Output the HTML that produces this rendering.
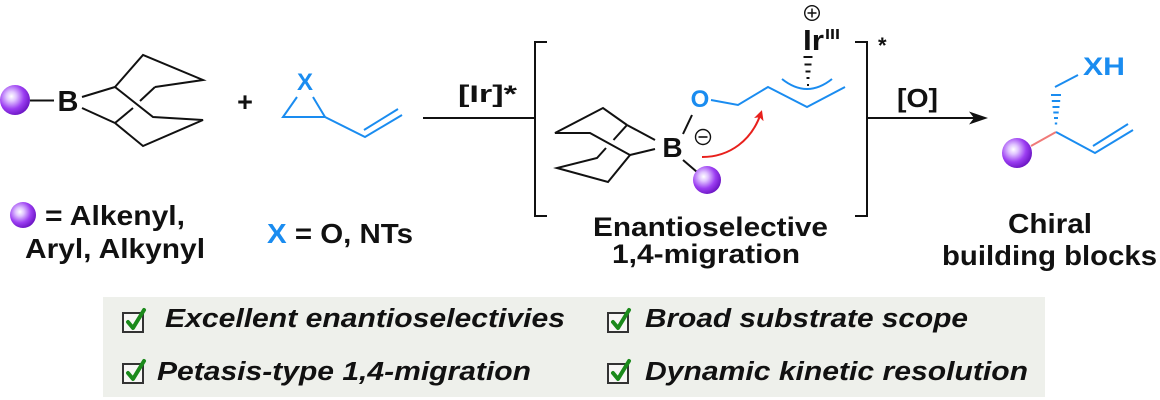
<!DOCTYPE html>
<html>
<head>
<meta charset="utf-8">
<style>
  html,body{margin:0;padding:0;background:#fff;}
  svg{display:block;}
  text{font-family:"Liberation Sans",Arial,sans-serif;font-weight:bold;fill:#111;}
  .it{font-style:italic;}
  .bl{fill:#1a8cf0;}
</style>
</head>
<body>
<svg width="1160" height="400" viewBox="0 0 1160 400" xmlns="http://www.w3.org/2000/svg">
  <defs>
    <radialGradient id="ball" cx="0.38" cy="0.38" r="0.65">
      <stop offset="0" stop-color="#ffffff"/>
      <stop offset="0.25" stop-color="#e0c4ff"/>
      <stop offset="0.65" stop-color="#9c3ef2"/>
      <stop offset="1" stop-color="#6c16c4"/>
    </radialGradient>
    <marker id="ah" viewBox="0 0 10 10" refX="7" refY="5" markerWidth="5" markerHeight="5" orient="auto" markerUnits="strokeWidth">
      <path d="M0,0 L10,5 L0,10 L2.5,5 z" fill="#e8201c"/>
    </marker>
  </defs>

  <!-- ===== Left reagent: R-9-BBN ===== -->
  <circle cx="15" cy="100" r="15" fill="url(#ball)"/>
  <line x1="30" y1="100.5" x2="54" y2="100.5" stroke="#111" stroke-width="2"/>
  <text x="68" y="111" font-size="29" text-anchor="middle">B</text>
  <g stroke="#111" stroke-width="2" fill="none" stroke-linejoin="miter">
    <line x1="82" y1="97" x2="115" y2="87"/>
    <line x1="82" y1="108" x2="115" y2="123"/>
    <polyline points="115,87 143,55 203,80 155,87"/>
    <line x1="155" y1="87" x2="140" y2="101"/>
    <line x1="133" y1="108" x2="115" y2="123"/>
    <polyline points="115,87 153,117 203,120 143,146 115,123"/>
  </g>

  <!-- plus -->
  <text x="245" y="111" font-size="27" text-anchor="middle">+</text>

  <!-- epoxide / aziridine -->
  <text x="305" y="90" font-size="24" text-anchor="middle" class="bl">X</text>
  <g stroke="#1a8cf0" stroke-width="2" fill="none">
    <polyline points="297,97 283,117 325,117 313,97"/>
    <polyline points="325,117 365,137 402,115"/>
    <line x1="364" y1="130" x2="398" y2="109"/>
  </g>

  <!-- legends -->
  <circle cx="23" cy="215" r="13" fill="url(#ball)"/>
  <text x="45" y="225" font-size="28" textLength="140" lengthAdjust="spacingAndGlyphs">= Alkenyl,</text>
  <text x="25" y="258" font-size="28" textLength="180" lengthAdjust="spacingAndGlyphs">Aryl, Alkynyl</text>
  <text x="267" y="243" font-size="28" textLength="146" lengthAdjust="spacingAndGlyphs"><tspan class="bl">X</tspan> = O, NTs</text>

  <!-- ===== first arrow line + [Ir]* ===== -->
  <line x1="423" y1="118" x2="535" y2="118" stroke="#111" stroke-width="2"/>
  <text x="458" y="102" font-size="24" textLength="59" lengthAdjust="spacingAndGlyphs">[Ir]*</text>

  <!-- brackets -->
  <path d="M547,42 H535 V216 H547" stroke="#111" stroke-width="2" fill="none"/>
  <path d="M855,42 H867 V216 H855" stroke="#111" stroke-width="2" fill="none"/>
  <text x="878" y="53" font-size="22">*</text>

  <!-- ===== Intermediate ===== -->
  <g stroke="#111" stroke-width="2" fill="none">
    <line x1="655" y1="140" x2="627" y2="125"/>
    <line x1="655" y1="149" x2="630" y2="155"/>
    <polyline points="627,125 603,108 555,133 590,133 630,155 608,182 557,168 597,158 606,148"/>
    <line x1="613.5" y1="140" x2="627" y2="125"/>
    <line x1="683" y1="134" x2="692" y2="115"/>
    <line x1="683" y1="160" x2="697" y2="172"/>
  </g>
  <text x="672.5" y="157" font-size="28" text-anchor="middle">B</text>
  <circle cx="707" cy="180" r="14" fill="url(#ball)"/>
  <!-- minus charge -->
  <circle cx="703" cy="137" r="7.5" fill="none" stroke="#111" stroke-width="1.4"/>
  <line x1="698.5" y1="137" x2="707.5" y2="137" stroke="#111" stroke-width="1.6"/>

  <!-- O and allyl chain -->
  <text x="700" y="107" font-size="24" text-anchor="middle" class="bl">O</text>
  <polyline points="711,100 738,105 768,87 807,107 845,87" stroke="#1a8cf0" stroke-width="2" fill="none"/>
  <path d="M782,79 Q807,99 832,79" stroke="#1a8cf0" stroke-width="2" fill="none"/>

  <!-- Ir -->
  <circle cx="812" cy="13" r="7.3" fill="none" stroke="#111" stroke-width="1.4"/>
  <line x1="807.5" y1="13" x2="816.5" y2="13" stroke="#111" stroke-width="1.5"/>
  <line x1="812" y1="8.5" x2="812" y2="17.5" stroke="#111" stroke-width="1.5"/>
  <text x="803" y="50" font-size="29" textLength="21" lengthAdjust="spacingAndGlyphs">Ir</text>
  <text x="825" y="39" font-size="15" textLength="15" lengthAdjust="spacingAndGlyphs">III</text>
  <g stroke="#111" stroke-width="2">
    <line x1="803.5" y1="57" x2="812.5" y2="57"/>
    <line x1="804.5" y1="64.5" x2="811.5" y2="64.5"/>
    <line x1="805.5" y1="71.5" x2="810.5" y2="71.5"/>
    <line x1="806.5" y1="78" x2="809.5" y2="78"/>
    <line x1="807" y1="85" x2="809" y2="85"/>
  </g>

  <!-- red curved arrow -->
  <path d="M702,157 C730,157 752,140 761,113" stroke="#e8201c" stroke-width="2" fill="none" marker-end="url(#ah)"/>

  <text x="593" y="236" font-size="27" textLength="235" lengthAdjust="spacingAndGlyphs">Enantioselective</text>
  <text x="612" y="263" font-size="27" textLength="188" lengthAdjust="spacingAndGlyphs">1,4-migration</text>

  <!-- ===== second arrow [O] ===== -->
  <line x1="867" y1="118" x2="976" y2="118" stroke="#111" stroke-width="2"/>
  <polygon points="988,118 969,111.5 974,118 969,124.5" fill="#111"/>
  <text x="897" y="107" font-size="26" textLength="41" lengthAdjust="spacingAndGlyphs">[O]</text>

  <!-- ===== Product ===== -->
  <circle cx="1017" cy="153" r="15" fill="url(#ball)"/>
  <line x1="1031" y1="146" x2="1056" y2="132" stroke="#f07a78" stroke-width="2"/>
  <g stroke="#1a8cf0" stroke-width="2" fill="none">
    <polyline points="1056,132 1095,153 1133,130"/>
    <line x1="1093" y1="146" x2="1128" y2="124"/>
    <line x1="1055" y1="87" x2="1078" y2="75"/>
    <line x1="1051" y1="95" x2="1061" y2="95"/>
    <line x1="1051.8" y1="101" x2="1060.2" y2="101"/>
    <line x1="1052.5" y1="107" x2="1059.5" y2="107"/>
    <line x1="1053.3" y1="112.5" x2="1058.7" y2="112.5"/>
    <line x1="1054" y1="118" x2="1058" y2="118"/>
    <line x1="1054.8" y1="123.5" x2="1057.2" y2="123.5"/>
  </g>
  <text x="1083" y="75" font-size="25" textLength="42" lengthAdjust="spacingAndGlyphs" class="bl">XH</text>
  <text x="1008" y="233" font-size="28" textLength="84" lengthAdjust="spacingAndGlyphs">Chiral</text>
  <text x="942" y="265" font-size="28" textLength="215" lengthAdjust="spacingAndGlyphs">building blocks</text>

  <!-- ===== Bottom feature box ===== -->
  <rect x="103" y="297" width="942" height="100" fill="#eef0eb"/>
  <g>
    <g stroke="#333" stroke-width="2" fill="#f7f7f5">
      <rect x="123" y="313" width="20" height="19"/>
      <rect x="608" y="313" width="20" height="19"/>
      <rect x="123" y="364" width="20" height="19"/>
      <rect x="608" y="364" width="20" height="19"/>
    </g>
    <g stroke="#1b8a1b" stroke-width="4" fill="none" stroke-linecap="round" stroke-linejoin="round">
      <polyline points="128,322 133,328 144,310"/>
      <polyline points="613,322 618,328 629,310"/>
      <polyline points="128,373 133,379 144,361"/>
      <polyline points="613,373 618,379 629,361"/>
    </g>
  </g>
  <text class="it" x="165" y="327" font-size="25.5" textLength="400" lengthAdjust="spacingAndGlyphs">Excellent enantioselectivies</text>
  <text class="it" x="645" y="327" font-size="25.5" textLength="323" lengthAdjust="spacingAndGlyphs">Broad substrate scope</text>
  <text class="it" x="157" y="380" font-size="25.5" textLength="374" lengthAdjust="spacingAndGlyphs">Petasis-type 1,4-migration</text>
  <text class="it" x="645" y="380" font-size="25.5" textLength="383" lengthAdjust="spacingAndGlyphs">Dynamic kinetic resolution</text>
</svg>
</body>
</html>
